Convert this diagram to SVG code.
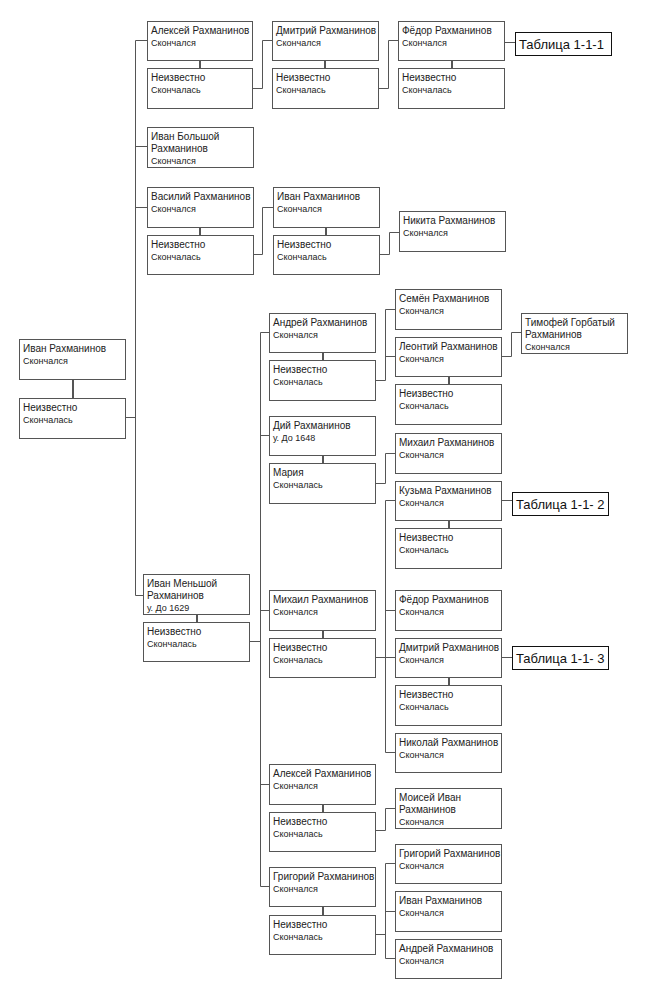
<svg xmlns="http://www.w3.org/2000/svg" width="662" height="1002" viewBox="0 0 662 1002">
<style>
rect.b{fill:#fff;stroke:#555;stroke-width:1}
rect.t{fill:#fff;stroke:#111;stroke-width:1}
.n{font-family:"Liberation Sans",Arial,sans-serif;font-size:10px;fill:#222}
.s{font-family:"Liberation Sans",Arial,sans-serif;font-size:9px;fill:#222}
.tt{font-family:"Liberation Sans",Arial,sans-serif;font-size:13px;fill:#111}
#conn path{fill:none;stroke:#555;stroke-width:1}
#conn path.c{stroke-width:2}
</style>
<rect width="662" height="1002" fill="#fff"/>
<g id="conn">
<path d="M135.5 40.5V595.5M135.5 40.5H147M135.5 146.5H147M135.5 207.5H147M135.5 595.5H143M125.5 417.5H135.5"/>
<path class="c" d="M73 379V399M200 60V68M200 227V235M325 60V68M326 227V235M452 60V68M197 614V622M323 352V361M323 455V463M323 630V638M323 804V812M323 907V915M449 377V384M449 520V528M449 677V685"/>
<path d="M252.5 88.5H262.5V40.5H272.5"/>
<path d="M378.5 88.5H388.5V40.5H398.5"/>
<path d="M504.5 42.5H515.5"/>
<path d="M253.5 254.5H262.5V207.5H273.5"/>
<path d="M379.5 254.5H389.5V232.5H399.5"/>
<path d="M249.5 641.5H260.5M260.5 332.5V886.5M260.5 332.5H269.5M260.5 435.5H269.5M260.5 610.5H269.5M260.5 784.5H269.5M260.5 886.5H269.5"/>
<path d="M375.5 380.5H385.5V309.5H395.5M385.5 356.5H395.5"/>
<path d="M501.5 356.5H511.5V332.5H522"/>
<path d="M375.5 483.5H385.5V453.5H395.5"/>
<path d="M375.5 657.5H395.5M385.5 500.5V752.5M385.5 500.5H395.5M385.5 610.5H395.5M385.5 752.5H395.5"/>
<path d="M501.5 500.5H512.5M501.5 657.5H512.5"/>
<path d="M375.5 830.5H385.5V808.5H395.5"/>
<path d="M375.5 934.5H385.5M385.5 863.5V958.5M385.5 863.5H395.5M385.5 911.5H395.5M385.5 958.5H395.5"/>
</g>

<g id="root"><rect class="b" x="19.5" y="339.5" width="106" height="40"/><text class="n" x="23" y="352">Иван Рахманинов</text><text class="s" x="23" y="364">Скончался</text></g>
<g id="root-w"><rect class="b" x="19.5" y="398.5" width="106" height="40"/><text class="n" x="23" y="411">Неизвестно</text><text class="s" x="23" y="423">Скончалась</text></g>

<g id="aleksey1"><rect class="b" x="147.5" y="21.5" width="105" height="39"/><text class="n" x="151" y="34">Алексей Рахманинов</text><text class="s" x="151" y="46">Скончался</text></g>
<g id="aleksey1-w"><rect class="b" x="147.5" y="68.5" width="105" height="40"/><text class="n" x="151" y="81">Неизвестно</text><text class="s" x="151" y="93">Скончалась</text></g>
<g id="ivan-bolshoy"><rect class="b" x="147.5" y="127.5" width="106" height="40"/><text class="n" x="151" y="140">Иван Большой</text><text class="n" x="151" y="152">Рахманинов</text><text class="s" x="151" y="164">Скончался</text></g>
<g id="vasiliy"><rect class="b" x="147.5" y="187.5" width="106" height="40"/><text class="n" x="151" y="200">Василий Рахманинов</text><text class="s" x="151" y="212">Скончался</text></g>
<g id="vasiliy-w"><rect class="b" x="147.5" y="235.5" width="106" height="39"/><text class="n" x="151" y="248">Неизвестно</text><text class="s" x="151" y="260">Скончалась</text></g>
<g id="ivan-menshoy"><rect class="b" x="143.5" y="574.5" width="106" height="40"/><text class="n" x="147" y="587">Иван Меньшой</text><text class="n" x="147" y="599">Рахманинов</text><text class="s" x="147" y="611">у. До 1629</text></g>
<g id="ivan-menshoy-w"><rect class="b" x="143.5" y="622.5" width="106" height="39"/><text class="n" x="147" y="635">Неизвестно</text><text class="s" x="147" y="647">Скончалась</text></g>

<g id="dmitriy1"><rect class="b" x="272.5" y="21.5" width="106" height="39"/><text class="n" x="276" y="34">Дмитрий Рахманинов</text><text class="s" x="276" y="46">Скончался</text></g>
<g id="dmitriy1-w"><rect class="b" x="272.5" y="68.5" width="106" height="40"/><text class="n" x="276" y="81">Неизвестно</text><text class="s" x="276" y="93">Скончалась</text></g>
<g id="fedor1"><rect class="b" x="398.5" y="21.5" width="106" height="39"/><text class="n" x="402" y="34">Фёдор Рахманинов</text><text class="s" x="402" y="46">Скончался</text></g>
<g id="fedor1-w"><rect class="b" x="398.5" y="68.5" width="106" height="40"/><text class="n" x="402" y="81">Неизвестно</text><text class="s" x="402" y="93">Скончалась</text></g>
<g id="table1"><rect class="t" x="515.5" y="32.5" width="96" height="23"/><text class="tt" x="519" y="48.5">Таблица 1-1-1</text></g>

<g id="ivan2"><rect class="b" x="273.5" y="187.5" width="106" height="40"/><text class="n" x="277" y="200">Иван Рахманинов</text><text class="s" x="277" y="212">Скончался</text></g>
<g id="ivan2-w"><rect class="b" x="273.5" y="235.5" width="106" height="39"/><text class="n" x="277" y="248">Неизвестно</text><text class="s" x="277" y="260">Скончалась</text></g>
<g id="nikita"><rect class="b" x="399.5" y="211.5" width="106" height="40"/><text class="n" x="403" y="224">Никита Рахманинов</text><text class="s" x="403" y="236">Скончался</text></g>

<g id="andrey2"><rect class="b" x="269.5" y="313.5" width="106" height="39"/><text class="n" x="273" y="326">Андрей Рахманинов</text><text class="s" x="273" y="338">Скончался</text></g>
<g id="andrey2-w"><rect class="b" x="269.5" y="360.5" width="106" height="40"/><text class="n" x="273" y="373">Неизвестно</text><text class="s" x="273" y="385">Скончалась</text></g>
<g id="diy"><rect class="b" x="269.5" y="416.5" width="106" height="39"/><text class="n" x="273" y="429">Дий Рахманинов</text><text class="s" x="273" y="441">у. До 1648</text></g>
<g id="mariya"><rect class="b" x="269.5" y="463.5" width="106" height="40"/><text class="n" x="273" y="476">Мария</text><text class="s" x="273" y="488">Скончалась</text></g>
<g id="mikhail2"><rect class="b" x="269.5" y="590.5" width="106" height="40"/><text class="n" x="273" y="603">Михаил Рахманинов</text><text class="s" x="273" y="615">Скончался</text></g>
<g id="mikhail2-w"><rect class="b" x="269.5" y="638.5" width="106" height="39"/><text class="n" x="273" y="651">Неизвестно</text><text class="s" x="273" y="663">Скончалась</text></g>
<g id="aleksey2"><rect class="b" x="269.5" y="764.5" width="106" height="40"/><text class="n" x="273" y="777">Алексей Рахманинов</text><text class="s" x="273" y="789">Скончался</text></g>
<g id="aleksey2-w"><rect class="b" x="269.5" y="812.5" width="106" height="39"/><text class="n" x="273" y="825">Неизвестно</text><text class="s" x="273" y="837">Скончалась</text></g>
<g id="grigoriy2"><rect class="b" x="269.5" y="867.5" width="106" height="39"/><text class="n" x="273" y="880">Григорий Рахманинов</text><text class="s" x="273" y="892">Скончался</text></g>
<g id="grigoriy2-w"><rect class="b" x="269.5" y="915.5" width="106" height="39"/><text class="n" x="273" y="928">Неизвестно</text><text class="s" x="273" y="940">Скончалась</text></g>

<g id="semen"><rect class="b" x="395.5" y="289.5" width="106" height="40"/><text class="n" x="399" y="302">Семён Рахманинов</text><text class="s" x="399" y="314">Скончался</text></g>
<g id="leontiy"><rect class="b" x="395.5" y="337.5" width="106" height="39"/><text class="n" x="399" y="350">Леонтий Рахманинов</text><text class="s" x="399" y="362">Скончался</text></g>
<g id="leontiy-w"><rect class="b" x="395.5" y="384.5" width="106" height="40"/><text class="n" x="399" y="397">Неизвестно</text><text class="s" x="399" y="409">Скончалась</text></g>
<g id="timofey"><rect class="b" x="521.5" y="313.5" width="106" height="40"/><text class="n" x="525" y="326">Тимофей Горбатый</text><text class="n" x="525" y="338">Рахманинов</text><text class="s" x="525" y="350">Скончался</text></g>
<g id="mikhail3"><rect class="b" x="395.5" y="433.5" width="106" height="40"/><text class="n" x="399" y="446">Михаил Рахманинов</text><text class="s" x="399" y="458">Скончался</text></g>
<g id="kuzma"><rect class="b" x="395.5" y="481.5" width="106" height="39"/><text class="n" x="399" y="494">Кузьма Рахманинов</text><text class="s" x="399" y="506">Скончался</text></g>
<g id="kuzma-w"><rect class="b" x="395.5" y="528.5" width="106" height="40"/><text class="n" x="399" y="541">Неизвестно</text><text class="s" x="399" y="553">Скончалась</text></g>
<g id="table2"><rect class="t" x="512.5" y="492.5" width="96" height="23"/><text class="tt" x="516" y="508.5">Таблица 1-1- 2</text></g>
<g id="fedor3"><rect class="b" x="395.5" y="590.5" width="106" height="40"/><text class="n" x="399" y="603">Фёдор Рахманинов</text><text class="s" x="399" y="615">Скончался</text></g>
<g id="dmitriy3"><rect class="b" x="395.5" y="638.5" width="106" height="39"/><text class="n" x="399" y="651">Дмитрий Рахманинов</text><text class="s" x="399" y="663">Скончался</text></g>
<g id="dmitriy3-w"><rect class="b" x="395.5" y="685.5" width="106" height="40"/><text class="n" x="399" y="698">Неизвестно</text><text class="s" x="399" y="710">Скончалась</text></g>
<g id="table3"><rect class="t" x="512.5" y="646.5" width="96" height="23"/><text class="tt" x="516" y="662.5">Таблица 1-1- 3</text></g>
<g id="nikolay"><rect class="b" x="395.5" y="733.5" width="106" height="39"/><text class="n" x="399" y="746">Николай Рахманинов</text><text class="s" x="399" y="758">Скончался</text></g>
<g id="moisey"><rect class="b" x="395.5" y="788.5" width="106" height="40"/><text class="n" x="399" y="801">Моисей Иван</text><text class="n" x="399" y="813">Рахманинов</text><text class="s" x="399" y="825">Скончался</text></g>
<g id="grigoriy3"><rect class="b" x="395.5" y="844.5" width="106" height="39"/><text class="n" x="399" y="857">Григорий Рахманинов</text><text class="s" x="399" y="869">Скончался</text></g>
<g id="ivan3"><rect class="b" x="395.5" y="891.5" width="106" height="40"/><text class="n" x="399" y="904">Иван Рахманинов</text><text class="s" x="399" y="916">Скончался</text></g>
<g id="andrey3"><rect class="b" x="395.5" y="939.5" width="106" height="39"/><text class="n" x="399" y="952">Андрей Рахманинов</text><text class="s" x="399" y="964">Скончался</text></g>
</svg>
